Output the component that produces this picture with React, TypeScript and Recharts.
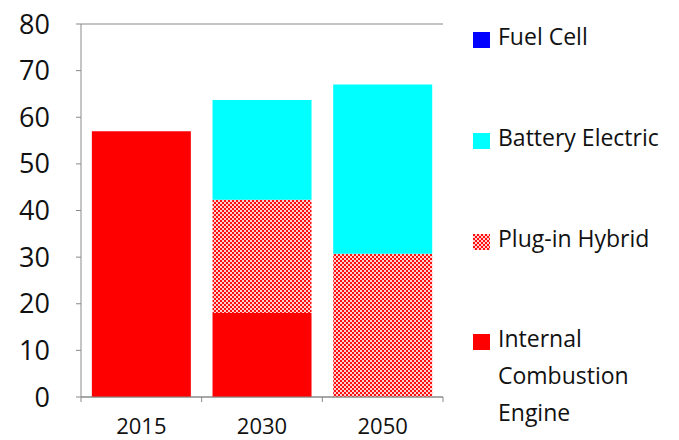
import React from 'react';
import { BarChart, Bar, XAxis, YAxis, CartesianGrid } from 'recharts';

// Categories (years)
const years = ['2015', '2030', '2050'];

// Series values
const internalCombustion = [57, 18, 0];
const plugInHybrid = [0, 24.3, 30.7];
const batteryElectric = [0, 21.4, 36.3];
const fuelCell = [0, 0, 0];

const yTicks = [0, 10, 20, 30, 40, 50, 60, 70, 80];

const FONT = '"Open Sans", "DejaVu Sans", sans-serif';
const TEXT = '#111';
const GRID = '#8a8a8a';

const data = years.map((year, i) => ({
    year,
    ice: internalCombustion[i],
    phev: plugInHybrid[i],
    bev: batteryElectric[i],
    fc: fuelCell[i],
}));

// legend order follows the stack, top first
const legendItems = [
    { key: 'fc', label: ['Fuel Cell'], fill: '#0000ff', top: 29 },
    { key: 'bev', label: ['Battery Electric'], fill: '#00ffff', top: 130 },
    { key: 'phev', label: ['Plug-in Hybrid'], fill: 'url(#phevCheckLegend)', top: 231 },
    { key: 'ice', label: ['Internal', 'Combustion', 'Engine'], fill: '#ff0000', top: 331 },
];

// X tick: label at band centre, small tick marks at band edges (Excel style)
const YearTick = (props: any) => {
    const { x, y, payload, index } = props;
    const half = payload && payload.offset ? payload.offset : 60.5;
    return (
        <g>
            <line x1={x - half} y1={y} x2={x - half} y2={y + 5} stroke={GRID} strokeWidth={1} />
            {index === years.length - 1 && (
                <line x1={x + half} y1={y} x2={x + half} y2={y + 5} stroke={GRID} strokeWidth={1} />
            )}
            <text x={x} y={y + 37} textAnchor="middle" fontSize={22} fontFamily={FONT} fill={TEXT}>
                {payload.value}
            </text>
        </g>
    );
};

export default function App() {
    return (
        <div style={{ position: 'absolute', left: 0, top: 0, width: 679, height: 440, background: '#fff', overflow: 'hidden' }}>
            <BarChart
                width={679}
                height={440}
                data={data}
                margin={{ top: 24, right: 236, bottom: 0, left: 0 }}
                barCategoryGap="9%"
            >
                <defs>
                    <pattern id="phevCheck" width={4} height={4} patternUnits="userSpaceOnUse">
                        <rect width={4} height={4} fill="#ffd0d0" />
                        <rect x={0} y={0} width={2} height={2} fill="#ff1010" />
                        <rect x={2} y={2} width={2} height={2} fill="#ff1010" />
                    </pattern>
                </defs>
                <CartesianGrid vertical={false} stroke={GRID} strokeWidth={1} />
                <XAxis
                    dataKey="year"
                    height={43}
                    axisLine={{ stroke: GRID }}
                    tickLine={false}
                    tickSize={0}
                    tickMargin={0}
                    tick={<YearTick />}
                    interval={0}
                />
                <YAxis
                    yAxisId="left"
                    width={81}
                    domain={[0, 80]}
                    ticks={yTicks}
                    interval={0}
                    axisLine={{ stroke: GRID }}
                    tickLine={{ stroke: GRID }}
                    tickSize={5}
                    tickMargin={26}
                    tick={{ fontSize: 27, fontFamily: FONT, fill: TEXT }}
                />
                <YAxis
                    yAxisId="right"
                    orientation="right"
                    width={0}
                    domain={[0, 80]}
                    tick={false}
                    tickLine={false}
                    axisLine={{ stroke: GRID }}
                />
                <Bar yAxisId="left" dataKey="ice" stackId="a" fill="#ff0000" isAnimationActive={false} />
                <Bar yAxisId="left" dataKey="phev" stackId="a" fill="url(#phevCheck)" isAnimationActive={false} />
                <Bar yAxisId="left" dataKey="bev" stackId="a" fill="#00ffff" isAnimationActive={false} />
                <Bar yAxisId="left" dataKey="fc" stackId="a" fill="#0000ff" isAnimationActive={false} />
            </BarChart>

            {/* legend, placed like the Excel original */}
            <svg width={0} height={0} style={{ position: 'absolute' }}>
                <defs>
                    <pattern id="phevCheckLegend" width={4} height={4} patternUnits="userSpaceOnUse">
                        <rect width={4} height={4} fill="#ffd0d0" />
                        <rect x={0} y={0} width={2} height={2} fill="#ff1010" />
                        <rect x={2} y={2} width={2} height={2} fill="#ff1010" />
                    </pattern>
                </defs>
            </svg>
            {legendItems.map(item => (
                <div
                    key={item.key}
                    style={{ position: 'absolute', left: 473, top: item.top, display: 'flex', alignItems: 'flex-start' }}
                >
                    <svg width={17} height={16} style={{ marginTop: 3, flex: 'none' }}>
                        <rect width={17} height={16} fill={item.fill} />
                    </svg>
                    <div
                        style={{
                            marginLeft: 8,
                            fontFamily: FONT,
                            fontSize: 23,
                            lineHeight: '37px',
                            marginTop: -11,
                            color: TEXT,
                            whiteSpace: 'nowrap',
                        }}
                    >
                        {item.label.map(line => (
                            <div key={line}>{line}</div>
                        ))}
                    </div>
                </div>
            ))}
        </div>
    );
}
